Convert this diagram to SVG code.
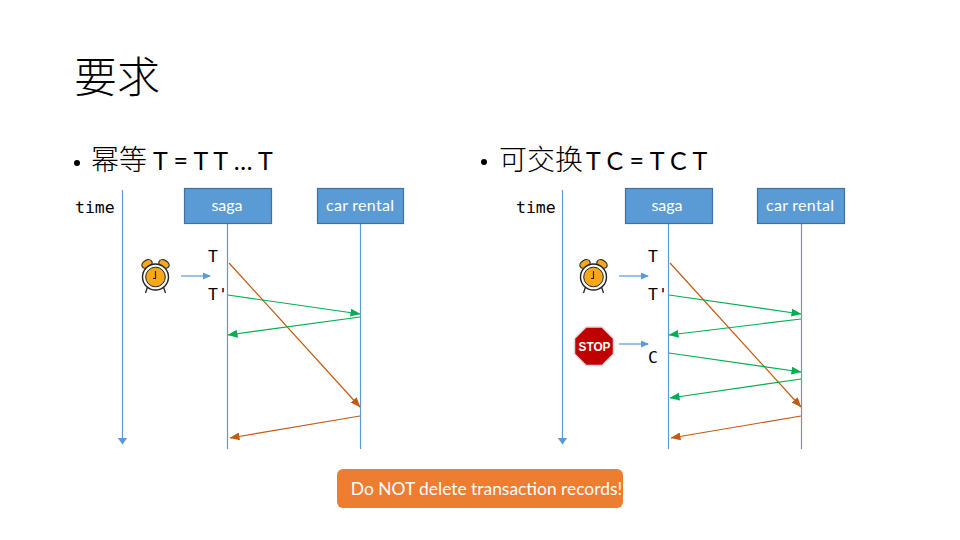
<svg xmlns="http://www.w3.org/2000/svg" width="960" height="540" viewBox="0 0 960 540">
<style>
.cjk{font-family:"Noto Sans CJK SC",sans-serif;fill:#000}
.bul{font-family:Lato,"Noto Sans CJK SC",sans-serif;font-size:25px;fill:#000}
.hz{font-size:28px;font-weight:300}
.mono{font-family:"DejaVu Sans Mono",monospace;font-size:16.500px;fill:#000}
.box{fill:#5b9bd5;stroke:#41719c;stroke-width:1.2}
.lbl{font-family:Lato,sans-serif;font-size:16px;fill:#fff;text-anchor:middle}
.b{stroke:#5b9bd5;stroke-width:1.2;fill:none}
.g{stroke:#00b050;stroke-width:1.2;fill:none;marker-end:url(#ga)}
.o{stroke:#c55a11;stroke-width:1.2;fill:none;marker-end:url(#oa)}
.ba{marker-end:url(#ba)}
.bt{marker-end:url(#bt)}
</style>
<defs>
<marker id="ba" markerWidth="8" markerHeight="7" refX="7" refY="3.5" orient="auto" markerUnits="userSpaceOnUse"><path d="M0 0L8 3.5L0 7Z" fill="#5b9bd5"/></marker>
<marker id="bt" markerWidth="7" markerHeight="10" refX="6.500" refY="5" orient="auto" markerUnits="userSpaceOnUse"><path d="M0 0L7 5L0 10Z" fill="#5b9bd5"/></marker>
<marker id="ga" markerWidth="10" markerHeight="8" refX="9.500" refY="4" orient="auto" markerUnits="userSpaceOnUse"><path d="M0 0L10 4L0 8Z" fill="#00b050"/></marker>
<marker id="oa" markerWidth="10" markerHeight="8" refX="9.500" refY="4" orient="auto" markerUnits="userSpaceOnUse"><path d="M0 0L10 4L0 8Z" fill="#c55a11"/></marker>
<g id="clock">
<ellipse cx="-8.500" cy="-13" rx="5.500" ry="3.800" fill="#f5a81c" stroke="#222" stroke-width="1.2" transform="rotate(-30 -8.500 -13)"/>
<ellipse cx="8.500" cy="-13" rx="5.500" ry="3.800" fill="#f5a81c" stroke="#222" stroke-width="1.2" transform="rotate(30 8.500 -13)"/>
<path d="M-8 10L-10 16M8 10L10 16" stroke="#222" stroke-width="1.3"/>
<circle r="13" fill="#fff" stroke="#222" stroke-width="1.400"/>
<circle r="9.800" fill="#f5a81c" stroke="#222" stroke-width="1"/>
<path d="M0 -6V1.500H-2.500" stroke="#222" stroke-width="1.200" fill="none"/>
</g>
</defs>
<rect width="960" height="540" fill="#fff"/>
<text class="cjk" x="74" y="93" font-size="43" font-weight="300">要求</text>
<g id="heading-left"><circle cx="77" cy="163" r="3" fill="#000"/><text class="bul" x="91" y="170"><tspan class="cjk hz">幂等</tspan><tspan x="153">T = T T … T</tspan></text></g>
<g id="heading-right"><circle cx="484" cy="162" r="3" fill="#000"/><text class="bul" x="499" y="170"><tspan class="cjk hz">可交换</tspan><tspan x="586">T C = T C T</tspan></text></g>
<g id="connectors">
<path class="b bt" d="M122.500 190V444"/>
<path class="b" d="M227.500 223V449M360.500 223V449"/>
<path class="b ba" d="M181 276H210"/>
<path class="o" d="M229 263L360 407"/>
<path class="g" d="M228 295L360 314"/>
<path class="g" d="M360 317L228 335"/>
<path class="o" d="M360 416L230 438"/>
<path class="b bt" d="M562.500 190V444"/>
<path class="b" d="M668.500 223V449M801.500 223V449"/>
<path class="b ba" d="M619 276H648"/>
<path class="b ba" d="M619 344H648"/>
<path class="o" d="M670 263L801 407"/>
<path class="g" d="M669 295L801 314"/>
<path class="g" d="M801 319L669 335"/>
<path class="g" d="M669 353L801 372"/>
<path class="g" d="M801 379L670 398"/>
<path class="o" d="M801 416L671 438"/>
</g>
<g id="time-left"><text class="mono" x="75" y="212.500">time</text></g>
<g id="saga-left"><rect class="box" x="184.500" y="188.500" width="87" height="35"/><text class="lbl" x="227" y="211">saga</text></g>
<g id="car-left"><rect class="box" x="317.500" y="188.500" width="86" height="35"/><text class="lbl" x="360" y="211" textLength="68">car rental</text></g>
<g id="time-right"><text class="mono" x="516" y="212.500">time</text></g>
<g id="saga-right"><rect class="box" x="625.500" y="188.500" width="87" height="35"/><text class="lbl" x="667" y="211">saga</text></g>
<g id="car-right"><rect class="box" x="757.500" y="188.500" width="87" height="35"/><text class="lbl" x="800" y="211" textLength="68">car rental</text></g>
<g id="clock-left"><use href="#clock" x="155.500" y="277"/></g>
<g id="clock-right"><use href="#clock" x="593.500" y="277"/></g>
<g id="stop"><path d="M586 327H602L613.500 338.500V354L602 365.500H586L574.500 354V338.500Z" fill="#c00000" stroke="#ddd" stroke-width="1.500"/><text x="578.500" y="351" font-family="Liberation Sans,sans-serif" font-size="13.500" font-weight="700" fill="#fff" textLength="32" lengthAdjust="spacingAndGlyphs">STOP</text></g>
<g id="labels">
<text class="mono" x="208" y="262">T</text>
<text class="mono" x="208" y="300">T'</text>
<text class="mono" x="648" y="262">T</text>
<text class="mono" x="648" y="300">T'</text>
<text class="mono" x="648" y="363">C</text>
</g>
<g id="note"><rect x="337" y="469" width="286" height="39" rx="6" fill="#ed7d31"/><text x="486.500" y="495" font-family="Lato,sans-serif" font-size="17.400" fill="#fff" text-anchor="middle">Do NOT delete transaction records!</text></g>
</svg>
